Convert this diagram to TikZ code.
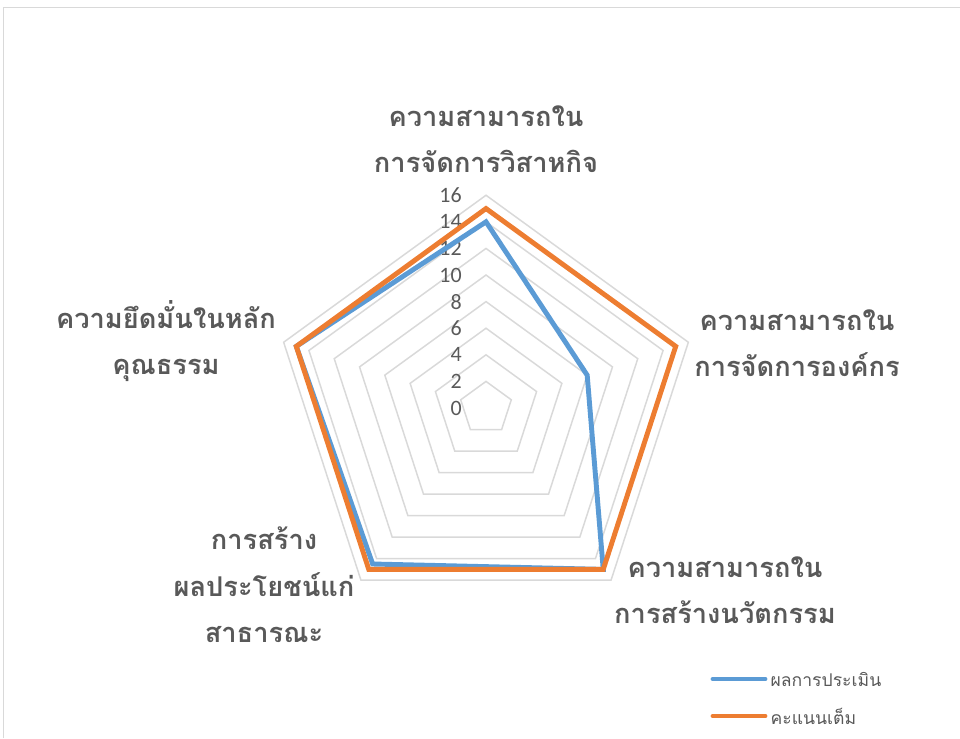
\documentclass[tikz,border=0pt]{standalone}
\usepackage{fontspec}
\setmainfont{Carlito}
\newfontfamily\thaifont[Script=Thai]{Loma}
\usetikzlibrary{positioning}
\definecolor{scoreblue}{HTML}{5B9BD5}
\definecolor{fullorange}{HTML}{ED7D31}
\definecolor{gridgray}{HTML}{D9D9D9}
\definecolor{labelgray}{HTML}{595959}
\tikzset{
	axislabel/.style = {font=\thaifont\bfseries\fontsize{15.5}{26.5}\selectfont, text=labelgray, align=center, inner sep=0pt},
	ticklabel/.style = {font=\fontsize{12.5}{12.5}\selectfont, text=labelgray, anchor=east, inner sep=0pt},
	ring/.style = {draw=gridgray, line width=0.85pt},
	series/.style = {line width=2.8pt},
	legendline/.style = {line width=2.8pt, line cap=round},
	legendtext/.style = {font=\thaifont\fontsize{10}{10}\selectfont, text=labelgray, anchor=west, inner sep=0pt},
}

\begin{document}
\begin{tikzpicture}[x=0.02cm, y=-0.02cm]

	\useasboundingbox (0,0) rectangle (960,738);
	% chart frame
	\draw[gridgray] (3.5,738) -- (3.5,7.5) -- (960,7.5);

	\begin{scope}[shift={(486,408)}, x=0.266cm, y=0.266cm]
		% grid rings
		\foreach \r in {2,4,...,16}
			\draw[ring] (90:\r) -- (18:\r) -- (-54:\r) -- (-126:\r) -- (162:\r) -- cycle;
		\foreach \r in {0,2,...,16}
			\node[ticklabel] (t\r) at (-1.8,\r) {\r};

		% data points
		\coordinate (s1) at (90:14);
		\coordinate (s2) at (18:8);
		\coordinate (s3) at (-54:15);
		\coordinate (s4) at (-126:14.5);
		\coordinate (s5) at (162:15);
		\coordinate (f1) at (90:15);
		\coordinate (f2) at (18:15);
		\coordinate (f3) at (-54:15);
		\coordinate (f4) at (-126:15);
		\coordinate (f5) at (162:15);

		% series
		\draw[series, scoreblue] (s1) -- (s2) -- (s3) -- (s4) -- (s5) -- cycle;
		\draw[series, fullorange] (f1) -- (f2) -- (f3) -- (f4) -- (f5) -- cycle;
	\end{scope}

	% axis labels
	\node[axislabel] (lead) at (486,139) {ความสามารถใน\\การจัดการวิสาหกิจ};
	\node[axislabel] (org) at (797,343) {ความสามารถใน\\การจัดการองค์กร};
	\node[axislabel] (innov) at (725,590) {ความสามารถใน\\การสร้างนวัตกรรม};
	\node[axislabel] (public) at (264,585) {การสร้าง\\ผลประโยชน์แก่\\สาธารณะ};
	\node[axislabel] (moral) at (166,341) {ความยึดมั่นในหลัก\\คุณธรรม};

	% legend
	\coordinate (b1) at (713,679);
	\coordinate (b2) at (765,679);
	\coordinate (o1) at (713,716);
	\coordinate (o2) at (765,716);
	\draw[legendline, scoreblue] (b1) -- (b2);
	\draw[legendline, fullorange] (o1) -- (o2);
	\node[legendtext, right=3pt of b2] (score) {ผลการประเมิน};
	\node[legendtext, right=3pt of o2] (full) {คะแนนเต็ม};

\end{tikzpicture}
\end{document}
